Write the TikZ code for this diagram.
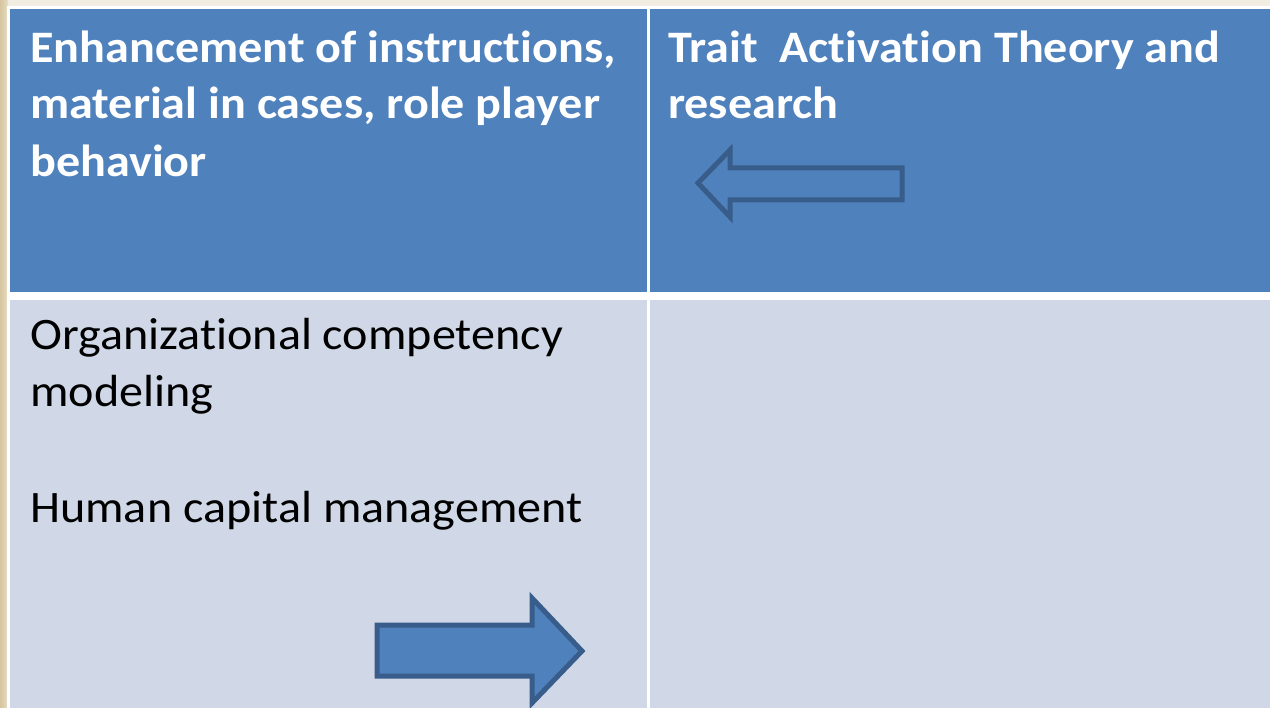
\documentclass[tikz,border=0pt]{standalone}
\usepackage{fontspec}
\setmainfont{Carlito}[Ligatures=NoCommon, FakeStretch=1.07]
\definecolor{hdrblue}{HTML}{4F81BD}
\definecolor{bodyblue}{HTML}{D0D8E8}
\definecolor{arrowedge}{HTML}{385D8A}
\definecolor{bglight}{HTML}{F2EDE2}
\definecolor{bgdark}{HTML}{D6C59E}
\tikzset{
  hdrtext/.style={anchor=base west, inner sep=0pt, text=white, font=\fontsize{45}{57}\selectfont\bfseries},
  bodytext/.style={anchor=base west, inner sep=0pt, text=black, font=\fontsize{45}{57}\selectfont},
  hdrcell/.style={fill=hdrblue, draw=none},
  bodycell/.style={fill=bodyblue, draw=none},
  blockarrow/.style={draw=arrowedge, line width=5pt, line join=miter}
}
\begin{document}
\begin{tikzpicture}[x=1pt,y=-1pt]
\useasboundingbox (0,0) rectangle (1270,708);
% background
\shade[top color=bglight, bottom color=bgdark!70!bglight] (0,0) rectangle (1270,708);
\shade[left color=bgdark, right color=bgdark!40!bglight] (0,0) rectangle (8,708);
% table frame
\fill[white] (7,6) rectangle (1270,708);
% cells
\fill[hdrcell] (10,9) rectangle (647,292);
\fill[hdrcell] (650,9) rectangle (1270,292);
\fill[bodycell] (10,300) rectangle (647,708);
\fill[bodycell] (650,300) rectangle (1270,708);
% texts
\node[hdrtext] (h1) at (30,63) {Enhancement of instructions,};
\node[hdrtext] (h2) at (30,119) {material in cases, role player};
\node[hdrtext] (h3) at (30,177) {behavior};
\node[hdrtext] (t1) at (668,63) {Trait\ \ Activation Theory and};
\node[hdrtext] (t2) at (668,119) {research};
\node[bodytext] (b1) at (30,350) {Organizational competency};
\node[bodytext] (b2) at (30,407) {modeling};
\node[bodytext] (b3) at (30,523) {Human capital management};
% arrows
\draw[blockarrow] (698,183) -- (730,150) -- (730,168) -- (902,168) -- (902,200) -- (730,200) -- (730,217) -- cycle;
\draw[blockarrow, fill=hdrblue] (377,625) -- (532,625) -- (532,598) -- (582,651) -- (532,703) -- (532,676) -- (377,676) -- cycle;
\end{tikzpicture}
\end{document}
